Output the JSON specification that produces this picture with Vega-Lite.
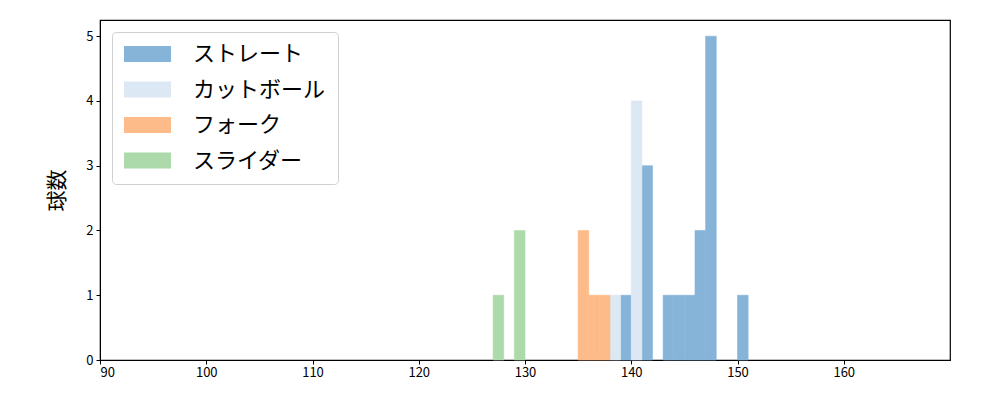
{
  "$schema": "https://vega.github.io/schema/vega-lite/v6.json",
  "autosize": {"type": "none"},
  "width": 850,
  "height": 340,
  "padding": {"left": 100, "top": 20, "right": 50, "bottom": 40},
  "background": "white",
  "config": {
    "view": {"stroke": "black", "strokeWidth": 1.2},
    "font": "Noto Sans CJK JP"
  },
  "data": {
    "values": [
      {"type": "ストレート", "start": 139, "end": 140, "count": 1},
      {"type": "ストレート", "start": 141, "end": 142, "count": 3},
      {"type": "ストレート", "start": 143, "end": 144, "count": 1},
      {"type": "ストレート", "start": 144, "end": 145, "count": 1},
      {"type": "ストレート", "start": 145, "end": 146, "count": 1},
      {"type": "ストレート", "start": 146, "end": 147, "count": 2},
      {"type": "ストレート", "start": 147, "end": 148, "count": 5},
      {"type": "ストレート", "start": 150, "end": 151, "count": 1},
      {"type": "カットボール", "start": 138, "end": 139, "count": 1},
      {"type": "カットボール", "start": 140, "end": 141, "count": 4},
      {"type": "フォーク", "start": 135, "end": 136, "count": 2},
      {"type": "フォーク", "start": 136, "end": 137, "count": 1},
      {"type": "フォーク", "start": 137, "end": 138, "count": 1},
      {"type": "スライダー", "start": 127, "end": 128, "count": 1},
      {"type": "スライダー", "start": 129, "end": 130, "count": 2}
    ]
  },
  "mark": {"type": "bar", "binSpacing": 0, "strokeWidth": 0.6},
  "encoding": {
    "x": {
      "field": "start", "type": "quantitative",
      "scale": {"domain": [90, 170], "nice": false, "zero": false, "padding": 0},
      "axis": {
        "values": [90, 100, 110, 120, 130, 140, 150, 160],
        "title": null, "grid": false, "domain": true, "domainColor": "black",
        "tickColor": "black", "tickSize": 4, "labelFontSize": 13, "labelColor": "black",
        "labelFont": "Noto Sans CJK JP", "labelPadding": 2
      }
    },
    "x2": {"field": "end"},
    "y": {
      "field": "count", "type": "quantitative", "stack": null,
      "scale": {"domain": [0, 5.25], "nice": false, "padding": 0},
      "axis": {
        "values": [0, 1, 2, 3, 4, 5],
        "title": "球数", "titleFontSize": 21, "titleFontWeight": "normal", "titleColor": "black",
        "titleFont": "Noto Sans CJK JP", "titlePadding": 18,
        "grid": false, "domainColor": "black", "tickColor": "black", "tickSize": 4,
        "labelFontSize": 13, "labelColor": "black", "labelFont": "Noto Sans CJK JP", "labelPadding": 3
      }
    },
    "y2": {"datum": 0},
    "stroke": {
      "field": "type", "type": "nominal",
      "scale": {
        "domain": ["ストレート", "カットボール", "フォーク", "スライダー"],
        "range": ["#86b4d9", "#dce8f4", "#fdbb8a", "#acdaaa"]
      },
      "legend": null
    },
    "color": {
      "field": "type", "type": "nominal",
      "scale": {
        "domain": ["ストレート", "カットボール", "フォーク", "スライダー"],
        "range": ["#86b4d9", "#dce8f4", "#fdbb8a", "#acdaaa"]
      },
      "legend": {
        "title": null,
        "orient": "none",
        "legendX": 12,
        "legendY": 12,
        "symbolType": "M-1,-0.34H1V0.34H-1Z",
        "symbolSize": 2209,
        "symbolStrokeWidth": 0,
        "symbolOpacity": 1,
        "clipHeight": 20,
        "rowPadding": 13.5,
        "labelFontSize": 22,
        "labelFont": "Noto Sans CJK JP",
        "labelColor": "black",
        "labelOffset": 22,
        "padding": 12,
        "fillColor": "white",
        "strokeColor": "#d0d0d0",
        "cornerRadius": 4
      }
    }
  }
}
